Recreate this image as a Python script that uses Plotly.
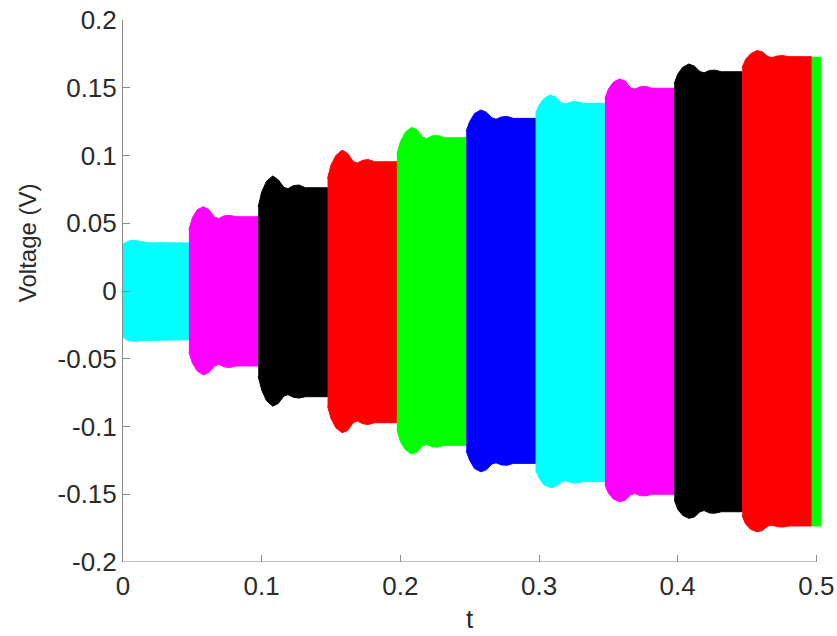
import plotly.graph_objects as go

# ---- data ----
seg_starts = [0.0, 0.0475, 0.0975, 0.1475, 0.1975, 0.2475, 0.2975, 0.3475, 0.3975, 0.4465, 0.4965]
seg_ends = [0.0475, 0.0975, 0.1475, 0.1975, 0.2475, 0.2975, 0.3475, 0.3975, 0.4465, 0.4965, 0.503]
seg_colors = ["#00FFFF", "#FF00FF", "#000000", "#FF0000", "#00FF00", "#0000FF",
              "#00FFFF", "#FF00FF", "#000000", "#FF0000", "#00FF00"]

# time offsets (from segment start) at which the envelope was read
env_offsets = [0.0, 0.0025, 0.006, 0.0105, 0.0145, 0.0185, 0.0215, 0.0255, 0.0295, 0.034]

upper_env = [
    [0.035, 0.036, 0.0375, 0.037, 0.036, 0.0355, 0.0355, 0.0357, 0.0357, 0.0355],
    [0.045, 0.054, 0.060, 0.0622, 0.060, 0.0545, 0.0535, 0.0555, 0.0558, 0.0548],
    [0.062, 0.073, 0.081, 0.0849, 0.082, 0.0765, 0.0755, 0.0778, 0.0782, 0.0762],
    [0.083, 0.093, 0.100, 0.104, 0.1015, 0.0955, 0.0945, 0.0965, 0.097, 0.0954],
    [0.101, 0.110, 0.117, 0.1208, 0.119, 0.1135, 0.1125, 0.1145, 0.1148, 0.1131],
    [0.118, 0.125, 0.131, 0.1336, 0.132, 0.1278, 0.1268, 0.1285, 0.1288, 0.1274],
    [0.131, 0.137, 0.142, 0.1446, 0.143, 0.139, 0.138, 0.1395, 0.1398, 0.1385],
    [0.142, 0.149, 0.154, 0.1565, 0.155, 0.150, 0.149, 0.1507, 0.151, 0.1496],
    [0.153, 0.160, 0.165, 0.1675, 0.166, 0.162, 0.161, 0.1628, 0.163, 0.1618],
    [0.165, 0.171, 0.175, 0.1774, 0.1765, 0.173, 0.1722, 0.1735, 0.1737, 0.1729],
    [0.1725, 0.1725, 0.1725, 0.1725, 0.1725, 0.1725, 0.1725, 0.1725, 0.1725, 0.1725],
]
lower_env = [
    [-0.034, -0.036, -0.037, -0.037, -0.0365, -0.036, -0.036, -0.036, -0.036, -0.036],
    [-0.045, -0.053, -0.059, -0.062, -0.060, -0.0555, -0.054, -0.056, -0.0565, -0.0553],
    [-0.063, -0.073, -0.081, -0.085, -0.083, -0.0775, -0.0765, -0.0785, -0.079, -0.078],
    [-0.085, -0.094, -0.101, -0.1046, -0.103, -0.097, -0.096, -0.098, -0.0985, -0.0972],
    [-0.102, -0.111, -0.117, -0.1203, -0.119, -0.1142, -0.1132, -0.115, -0.1153, -0.1139],
    [-0.118, -0.125, -0.131, -0.1334, -0.132, -0.1276, -0.1268, -0.1284, -0.1286, -0.1272],
    [-0.132, -0.138, -0.143, -0.145, -0.1445, -0.141, -0.140, -0.1415, -0.1418, -0.1407],
    [-0.143, -0.149, -0.1535, -0.1555, -0.1545, -0.1505, -0.1495, -0.151, -0.1512, -0.150],
    [-0.154, -0.161, -0.1655, -0.1678, -0.1668, -0.163, -0.162, -0.1638, -0.164, -0.1629],
    [-0.166, -0.172, -0.1758, -0.1776, -0.1768, -0.1735, -0.1728, -0.174, -0.1742, -0.1734],
    [-0.1734, -0.1734, -0.1734, -0.1734, -0.1734, -0.1734, -0.1734, -0.1734, -0.1734, -0.1734],
]

x_ticks = [0, 0.1, 0.2, 0.3, 0.4, 0.5]
x_ticktext = ["0", "0.1", "0.2", "0.3", "0.4", "0.5"]
y_ticks = [-0.2, -0.15, -0.1, -0.05, 0, 0.05, 0.1, 0.15, 0.2]
y_ticktext = ["-0.2", "-0.15", "-0.1", "-0.05", "0", "0.05", "0.1", "0.15", "0.2"]

# ---- figure ----
fig = go.Figure()
for s, e, col, up, lo in zip(seg_starts, seg_ends, seg_colors, upper_env, lower_env):
    xs_u, ys_u, xs_l, ys_l = [], [], [], []
    for off, u, l in zip(env_offsets, up, lo):
        t = s + off
        if t < e:
            xs_u.append(t); ys_u.append(u)
            xs_l.append(t); ys_l.append(l)
    xs_u.append(e); ys_u.append(ys_u[-1])
    xs_l.append(e); ys_l.append(ys_l[-1])
    fig.add_trace(go.Scatter(
        x=xs_u + xs_l[::-1], y=ys_u + ys_l[::-1],
        mode="lines", fill="toself", fillcolor=col,
        line=dict(color=col, width=1),
        hoverinfo="skip", showlegend=False))

font_col = "#2b2b2b"
axis_col = "#8a8a8a"
fig.update_layout(
    width=837, height=636,
    margin=dict(l=123, r=13, t=20, b=74),
    paper_bgcolor="white", plot_bgcolor="white",
    font=dict(family="Liberation Sans, Arial, sans-serif", color=font_col, size=24),
    showlegend=False,
    xaxis=dict(range=[0, 0.5055], tickvals=x_ticks, ticktext=x_ticktext,
               ticks="inside", ticklen=7, tickcolor=axis_col, showline=False,
               showgrid=False, zeroline=False, tickfont=dict(size=26, color=font_col),
               ticklabelstandoff=6, automargin=False, ticklabeloverflow="allow"),
    yaxis=dict(range=[-0.2, 0.2], tickvals=y_ticks, ticktext=y_ticktext,
               ticks="inside", ticklen=7, tickcolor=axis_col, showline=True,
               linecolor=axis_col, linewidth=1, showgrid=False, zeroline=False,
               tickfont=dict(size=26, color=font_col), ticklabelstandoff=0,
               automargin=False, ticklabeloverflow="allow"),
    shapes=[dict(type="line", xref="x", yref="y", x0=0, x1=0.5, y0=-0.2, y1=-0.2,
                 line=dict(color=axis_col, width=1))],
    annotations=[
        dict(text="Voltage (V)", xref="paper", yref="paper", x=-0.137, y=0.59,
             textangle=-90, showarrow=False, xanchor="center", yanchor="middle",
             font=dict(size=24, color=font_col)),
        dict(text="t", xref="x", yref="paper", x=0.25, y=-0.105,
             showarrow=False, xanchor="center", yanchor="middle",
             font=dict(size=26, color=font_col)),
    ],
)

fig.write_html("out.html", config={"displayModeBar": False},
               post_script="document.body.style.margin='0';document.body.style.overflow='hidden';")
